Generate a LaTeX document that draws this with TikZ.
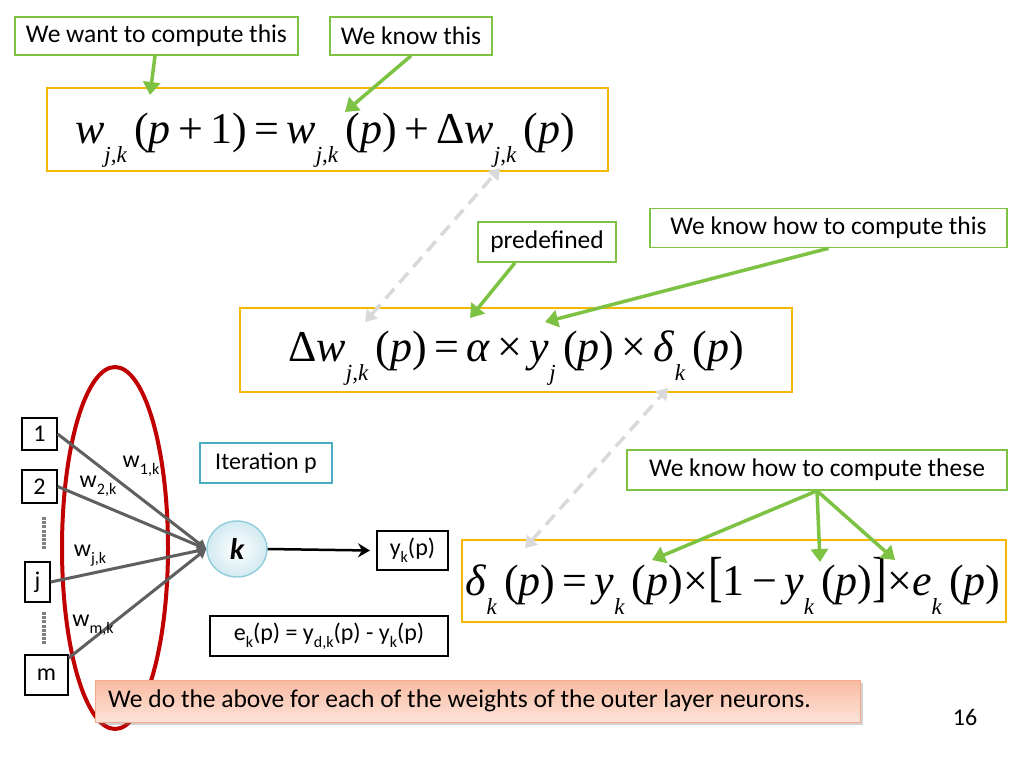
\documentclass[tikz,border=0pt]{standalone}
\usepackage{fontspec}
\setmainfont{Carlito}
\newfontfamily\eqf{Liberation Serif}
\usetikzlibrary{arrows.meta,shadows,shapes.geometric}
\definecolor{grn}{HTML}{7DC242}
\definecolor{gold}{HTML}{F5B800}
\definecolor{tealc}{HTML}{4BACC6}
\definecolor{redc}{HTML}{C00000}
\definecolor{salmon}{HTML}{F7A98B}
\definecolor{salmonl}{HTML}{FDE3D8}
\definecolor{wline}{HTML}{5F5F5F}
\newcommand{\sbs}[1]{\raisebox{-0.45em}{\fontsize{23}{25}\selectfont\itshape #1}}
\newcommand{\sbss}[1]{\raisebox{-0.3em}{\fontsize{16}{18}\selectfont #1}}
\begin{document}
\begin{tikzpicture}[x=1pt,y=-1pt,
  gbox/.style={draw=grn,line width=1.6pt,fill=white,inner sep=0pt,font=\fontsize{25.5}{28}\selectfont},
  eqbox/.style={draw=gold,line width=1.6pt,fill=white,inner sep=0pt},
  blk/.style={draw=black,line width=1.4pt,fill=white,inner sep=0pt,font=\fontsize{24}{26}\selectfont},
  garrow/.style={draw=grn,line width=3.5pt,-{Triangle[length=13pt,width=17pt]}},
  darrow/.style={draw=gray!30,line width=3.5pt,dash pattern=on 13pt off 8pt,{Triangle[length=11pt,width=14pt]}-{Triangle[length=11pt,width=14pt]}},
  wl/.style={draw=wline,line width=3pt},
  wlab/.style={font=\fontsize{24}{26}\selectfont,inner sep=0pt}
]
\useasboundingbox (0,0) rectangle (1024,768);
\fill[white] (0,0) rectangle (1024,768);

% top annotation boxes
\node[gbox,minimum width=283pt,minimum height=38pt] (want) at (156.5,36) {We want to compute this};
\node[gbox,minimum width=162pt,minimum height=38pt] (know) at (411,36) {We know this};

% equation 1
\node[eqbox,minimum width=561pt,minimum height=83pt] (eq1) at (327.5,129.5) {};
\node[inner sep=0pt,anchor=base] (eq1t) at (325,143) {\eqf\fontsize{44}{50}\selectfont
 \textit{w}\sbs{j,k}\,(\textit{p}\,+\,1)\,=\,\textit{w}\sbs{j,k}\,(\textit{p})\,+\,Δ\textit{w}\sbs{j,k}\,(\textit{p})};

% middle annotation boxes
\node[gbox,minimum width=138pt,minimum height=40pt] (pre) at (547,242) {predefined};
\node[gbox,minimum width=357pt,minimum height=39pt] (knowc) at (828.5,228) {We know how to compute this};

% equation 2
\node[eqbox,minimum width=552pt,minimum height=84pt] (eq2) at (516,350) {};
\node[inner sep=0pt,anchor=base] (eq2t) at (516,361) {\eqf\fontsize{44}{50}\selectfont
 Δ\textit{w}\sbs{j,k}\,(\textit{p})\,=\,\textit{α}\,×\,\textit{y}\sbs{j}\,(\textit{p})\,×\,\textit{δ}\sbs{k}\,(\textit{p})};

% these box and equation 3
\node[gbox,minimum width=380pt,minimum height=40pt] (knowt) at (817,470) {We know how to compute these};
\node[eqbox,minimum width=544pt,minimum height=82pt] (eq3) at (734,581) {};
\node[inner sep=0pt,anchor=base] (eq3t) at (733,595) {\eqf\fontsize{44}{50}\selectfont
 \textit{δ}\sbs{k}\,(\textit{p})\,=\,\textit{y}\sbs{k}\,(\textit{p})×\scalebox{1}[1.25]{[}1\,−\,\textit{y}\sbs{k}\,(\textit{p})\scalebox{1}[1.25]{]}×\textit{e}\sbs{k}\,(\textit{p})};

% green arrows
\coordinate (a1) at (150,95);
\coordinate (a2) at (345,112);
\coordinate (a3) at (470,318);
\coordinate (a4) at (545,322);
\coordinate (a5) at (652,560);
\coordinate (a6) at (820,562);
\coordinate (a7) at (895,560);
\draw[garrow] (want.south -| 155,0) -- (a1);
\draw[garrow] (know.south) -- (a2);
\draw[garrow] (pre.south -| 515,0) -- (a3);
\draw[garrow] (knowc.south) -- (a4);
\draw[garrow] (knowt.south) -- (a5);
\draw[garrow] (knowt.south) -- (a6);
\draw[garrow] (knowt.south) -- (a7);

% dashed gray arrows
\coordinate (d1a) at (500,168);
\coordinate (d1b) at (365,322);
\coordinate (d2a) at (668,388);
\coordinate (d2b) at (525,548);
\draw[darrow] (d1b) -- (d1a);
\draw[darrow] (d2b) -- (d2a);

% network
\node[blk,minimum width=35pt,minimum height=32pt] (in1) at (39.5,434) {1};
\node[blk,minimum width=35pt,minimum height=33pt] (in2) at (39.5,486.5) {2};
\node[blk,minimum width=25pt,minimum height=40pt] (inj) at (37.5,582) {j};
\node[blk,minimum width=43pt,minimum height=40pt] (inm) at (46.5,675) {m};
\draw[gray,line width=3.5pt,dash pattern=on 3pt off 1.2pt] (44,517) -- (44,549);
\draw[gray,line width=3.5pt,dash pattern=on 3pt off 1.2pt] (44,612) -- (44,645);

\node[ellipse,draw=redc,line width=4pt,minimum width=106pt,minimum height=362pt] (oval) at (115,548) {};

\node[ellipse,draw=tealc!60,line width=1.4pt,inner color=white,outer color=tealc!25,minimum width=60pt,minimum height=56pt,font=\fontsize{30}{32}\selectfont\bfseries\itshape] (k) at (237,549) {k};

\draw[wl,-{Triangle[length=9pt,width=10pt]}] (in1.east) -- (k.west);
\draw[wl,-{Triangle[length=9pt,width=10pt]}] (in2.east) -- (k.west);
\draw[wl,-{Triangle[length=9pt,width=10pt]}] (inj.east) -- (k.west);
\draw[wl,-{Triangle[length=9pt,width=10pt]}] (inm.east |- 0,658) -- (k.west);

\node[wlab] (w1) at (141,466) {w\sbss{1,k}};
\node[wlab] (w2) at (98,486) {w\sbss{2,k}};
\node[wlab] (wj) at (90,556) {w\sbss{j,k}};
\node[wlab] (wm) at (93,625) {w\sbss{m,k}};

\node[blk,minimum width=71pt,minimum height=39pt] (yk) at (412.5,550.5) {y\sbss{k}(p)};
\draw[black,line width=2.5pt,-{Stealth[length=12pt,width=14pt,inset=4pt]}] (k.east) -- (yk.west -| 370,0);

\node[draw=tealc,line width=1.4pt,minimum width=132pt,minimum height=40pt,inner sep=0pt,font=\fontsize{24}{26}\selectfont] (iter) at (266,463) {Iteration p};
\node[blk,minimum width=238pt,minimum height=40pt] (ek) at (329,636) {e\sbss{k}(p) = y\sbss{d,k}(p) - y\sbss{k}(p)};

% bottom note
\node[draw=salmon,line width=1pt,top color=salmon!80,bottom color=salmonl,shading angle=0,drop shadow={opacity=0.35,shadow xshift=2pt,shadow yshift=-3pt},minimum width=765pt,minimum height=42pt,inner sep=0pt,anchor=west,font=\fontsize{25.5}{28}\selectfont] (note) at (95,701) {};
\node[anchor=west,inner sep=0pt,font=\fontsize{25.5}{28}\selectfont] (notet) at (108,701) {We do the above for each of the weights of the outer layer neurons.};

\node[font=\fontsize{24}{26}\selectfont,inner sep=0pt] (pg) at (965,717) {16};
\end{tikzpicture}
\end{document}
